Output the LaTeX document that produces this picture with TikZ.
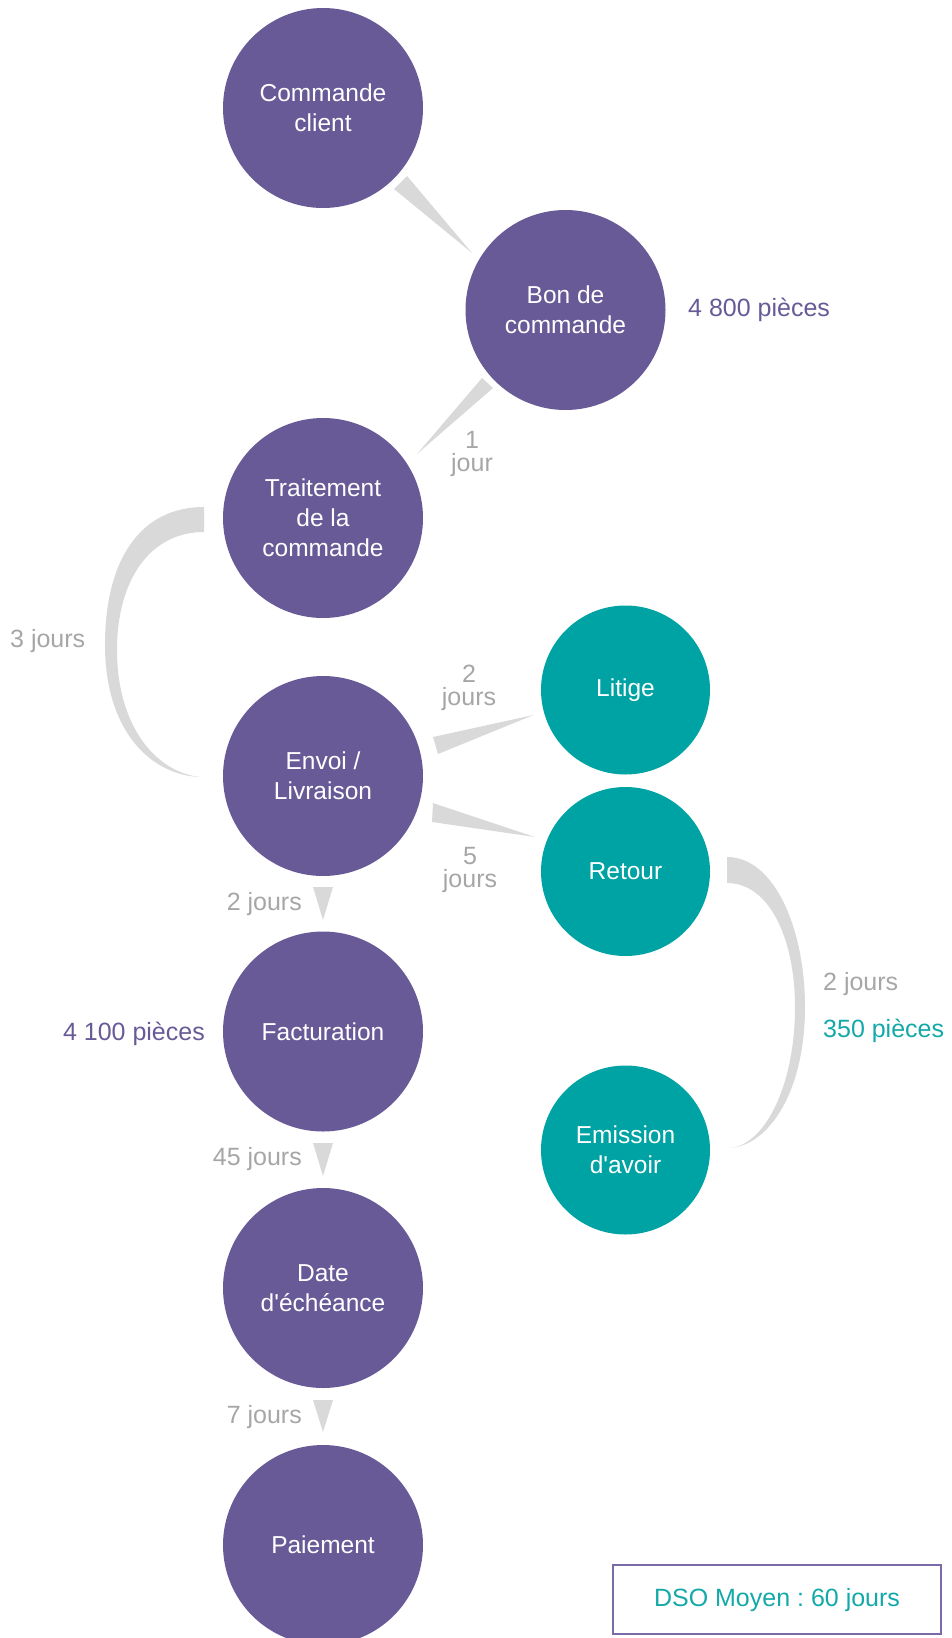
\documentclass[tikz,border=0pt]{standalone}
\usepackage{fontspec}
\setmainfont{Liberation Sans}[Ligatures=TeXOff]
\usetikzlibrary{calc}
\definecolor{purp}{HTML}{675A97}
\definecolor{tealc}{HTML}{00A3A3}
\definecolor{lgray}{HTML}{D9D9D9}
\definecolor{tgray}{HTML}{A6A6A6}
\definecolor{tealtext}{HTML}{14A9A9}
\definecolor{boxpurp}{HTML}{7A6AA8}
\frenchspacing
\begin{document}
\begin{tikzpicture}[x=1pt,y=-1pt,
  pcirc/.style={circle,fill=purp,minimum size=200pt,inner sep=0pt,text=white,align=center,font=\fontsize{24.5}{30}\selectfont},
  tcirc/.style={circle,fill=tealc,minimum size=169pt,inner sep=0pt,text=white,align=center,font=\fontsize{24.5}{30}\selectfont},
  wedge/.style={fill=lgray,draw=none},
  glbl/.style={text=tgray,inner sep=0pt,align=center,font=\fontsize{25}{23}\selectfont},
  plbl/.style={text=purp,inner sep=0pt,font=\fontsize{25}{30}\selectfont},
  tlbl/.style={text=tealtext,inner sep=0pt,font=\fontsize{25}{30}\selectfont},
]
\useasboundingbox (0,0) rectangle (952,1638);
\clip (0,0) rectangle (952,1638);

% nodes
\node[pcirc] (cc) at (323,108) {Commande\\client};
\node[pcirc] (bon) at (565.5,310) {Bon de\\commande};
\node[pcirc] (trait) at (323,518) {Traitement\\de la\\commande};
\node[pcirc] (envoi) at (323,776) {Envoi /\\Livraison};
\node[pcirc] (fact) at (323,1031.5) {Facturation};
\node[pcirc] (date) at (323,1288) {Date\\d'échéance};
\node[pcirc] (paie) at (323,1545) {Paiement};
\node[tcirc] (litige) at (625.5,690) {Litige};
\node[tcirc] (retour) at (625.5,871.5) {Retour};
\node[tcirc] (emis) at (625.5,1150) {Emission\\d'avoir};

% wedges
\fill[wedge] ($(cc.center)+(71,81)$) -- ($(cc.center)+(84,68)$) -- ($(bon.center)+(-93.5,-57)$) -- cycle;
\fill[wedge] ($(bon.center)+(-83.5,68)$) -- ($(bon.center)+(-72.5,78)$) -- ($(trait.center)+(94,-64)$) -- cycle;
\fill[wedge] ($(envoi.center)+(110,-39)$) -- ($(envoi.center)+(115,-22)$) -- ($(litige.center)+(-92,25)$) -- cycle;
\fill[wedge] ($(envoi.center)+(110,27)$) -- ($(envoi.center)+(109,46)$) -- ($(retour.center)+(-90.5,-34.5)$) -- cycle;
\fill[wedge] ($(envoi.center)+(-10,111)$) -- ($(envoi.center)+(10,111)$) -- ($(fact.center)+(0,-111.5)$) -- cycle;
\fill[wedge] ($(fact.center)+(-10,111.5)$) -- ($(fact.center)+(10,111.5)$) -- ($(date.center)+(0,-112)$) -- cycle;
\fill[wedge] ($(date.center)+(-10,112)$) -- ($(date.center)+(10,112)$) -- ($(paie.center)+(0,-113)$) -- cycle;

% curved connectors
\fill[wedge] ($(trait.center)+(-119,-11)$) .. controls (140,507) and (105,560) .. (105,645)
  .. controls (105,730) and (150,775) .. ($(envoi.center)+(-123,1)$)
  .. controls (155,772) and (117,725) .. (117,650)
  .. controls (117,580) and (150,532) .. ($(trait.center)+(-119,14)$) -- cycle;
\fill[wedge] ($(retour.center)+(101.5,-14.5)$) .. controls (775,857) and (805,930) .. (805,1007)
  .. controls (805,1090) and (770,1145) .. ($(emis.center)+(104.5,-2)$)
  .. controls (765,1145) and (795,1085) .. (795,1007)
  .. controls (795,940) and (770,883) .. ($(retour.center)+(101.5,11.5)$) -- cycle;

% labels
\node[glbl] (l1) at (472,454) {1\\jour};
\node[glbl,anchor=base west] (l3) at (10,647) {3 jours};
\node[glbl] (l2a) at (469,688) {2\\jours};
\node[glbl] (l5) at (470,870) {5\\jours};
\node[glbl,anchor=base east] (l2b) at (302,910) {2 jours};
\node[glbl,anchor=base east] (l45) at (302,1165) {45 jours};
\node[glbl,anchor=base east] (l7) at (302,1423) {7 jours};
\node[glbl,anchor=base west] (l2c) at (823,990) {2 jours};
\node[plbl,anchor=base west] (p48) at (688,316) {4 800 pièces};
\node[plbl,anchor=base east] (p41) at (205,1040) {4 100 pièces};
\node[tlbl,anchor=base west] (p350) at (823,1037) {350 pièces};

% DSO box
\draw[boxpurp,line width=2.5pt] (613,1565) rectangle (941,1634);
\node[tlbl] (dso) at (777,1600) {DSO Moyen : 60 jours};
\end{tikzpicture}
\end{document}
